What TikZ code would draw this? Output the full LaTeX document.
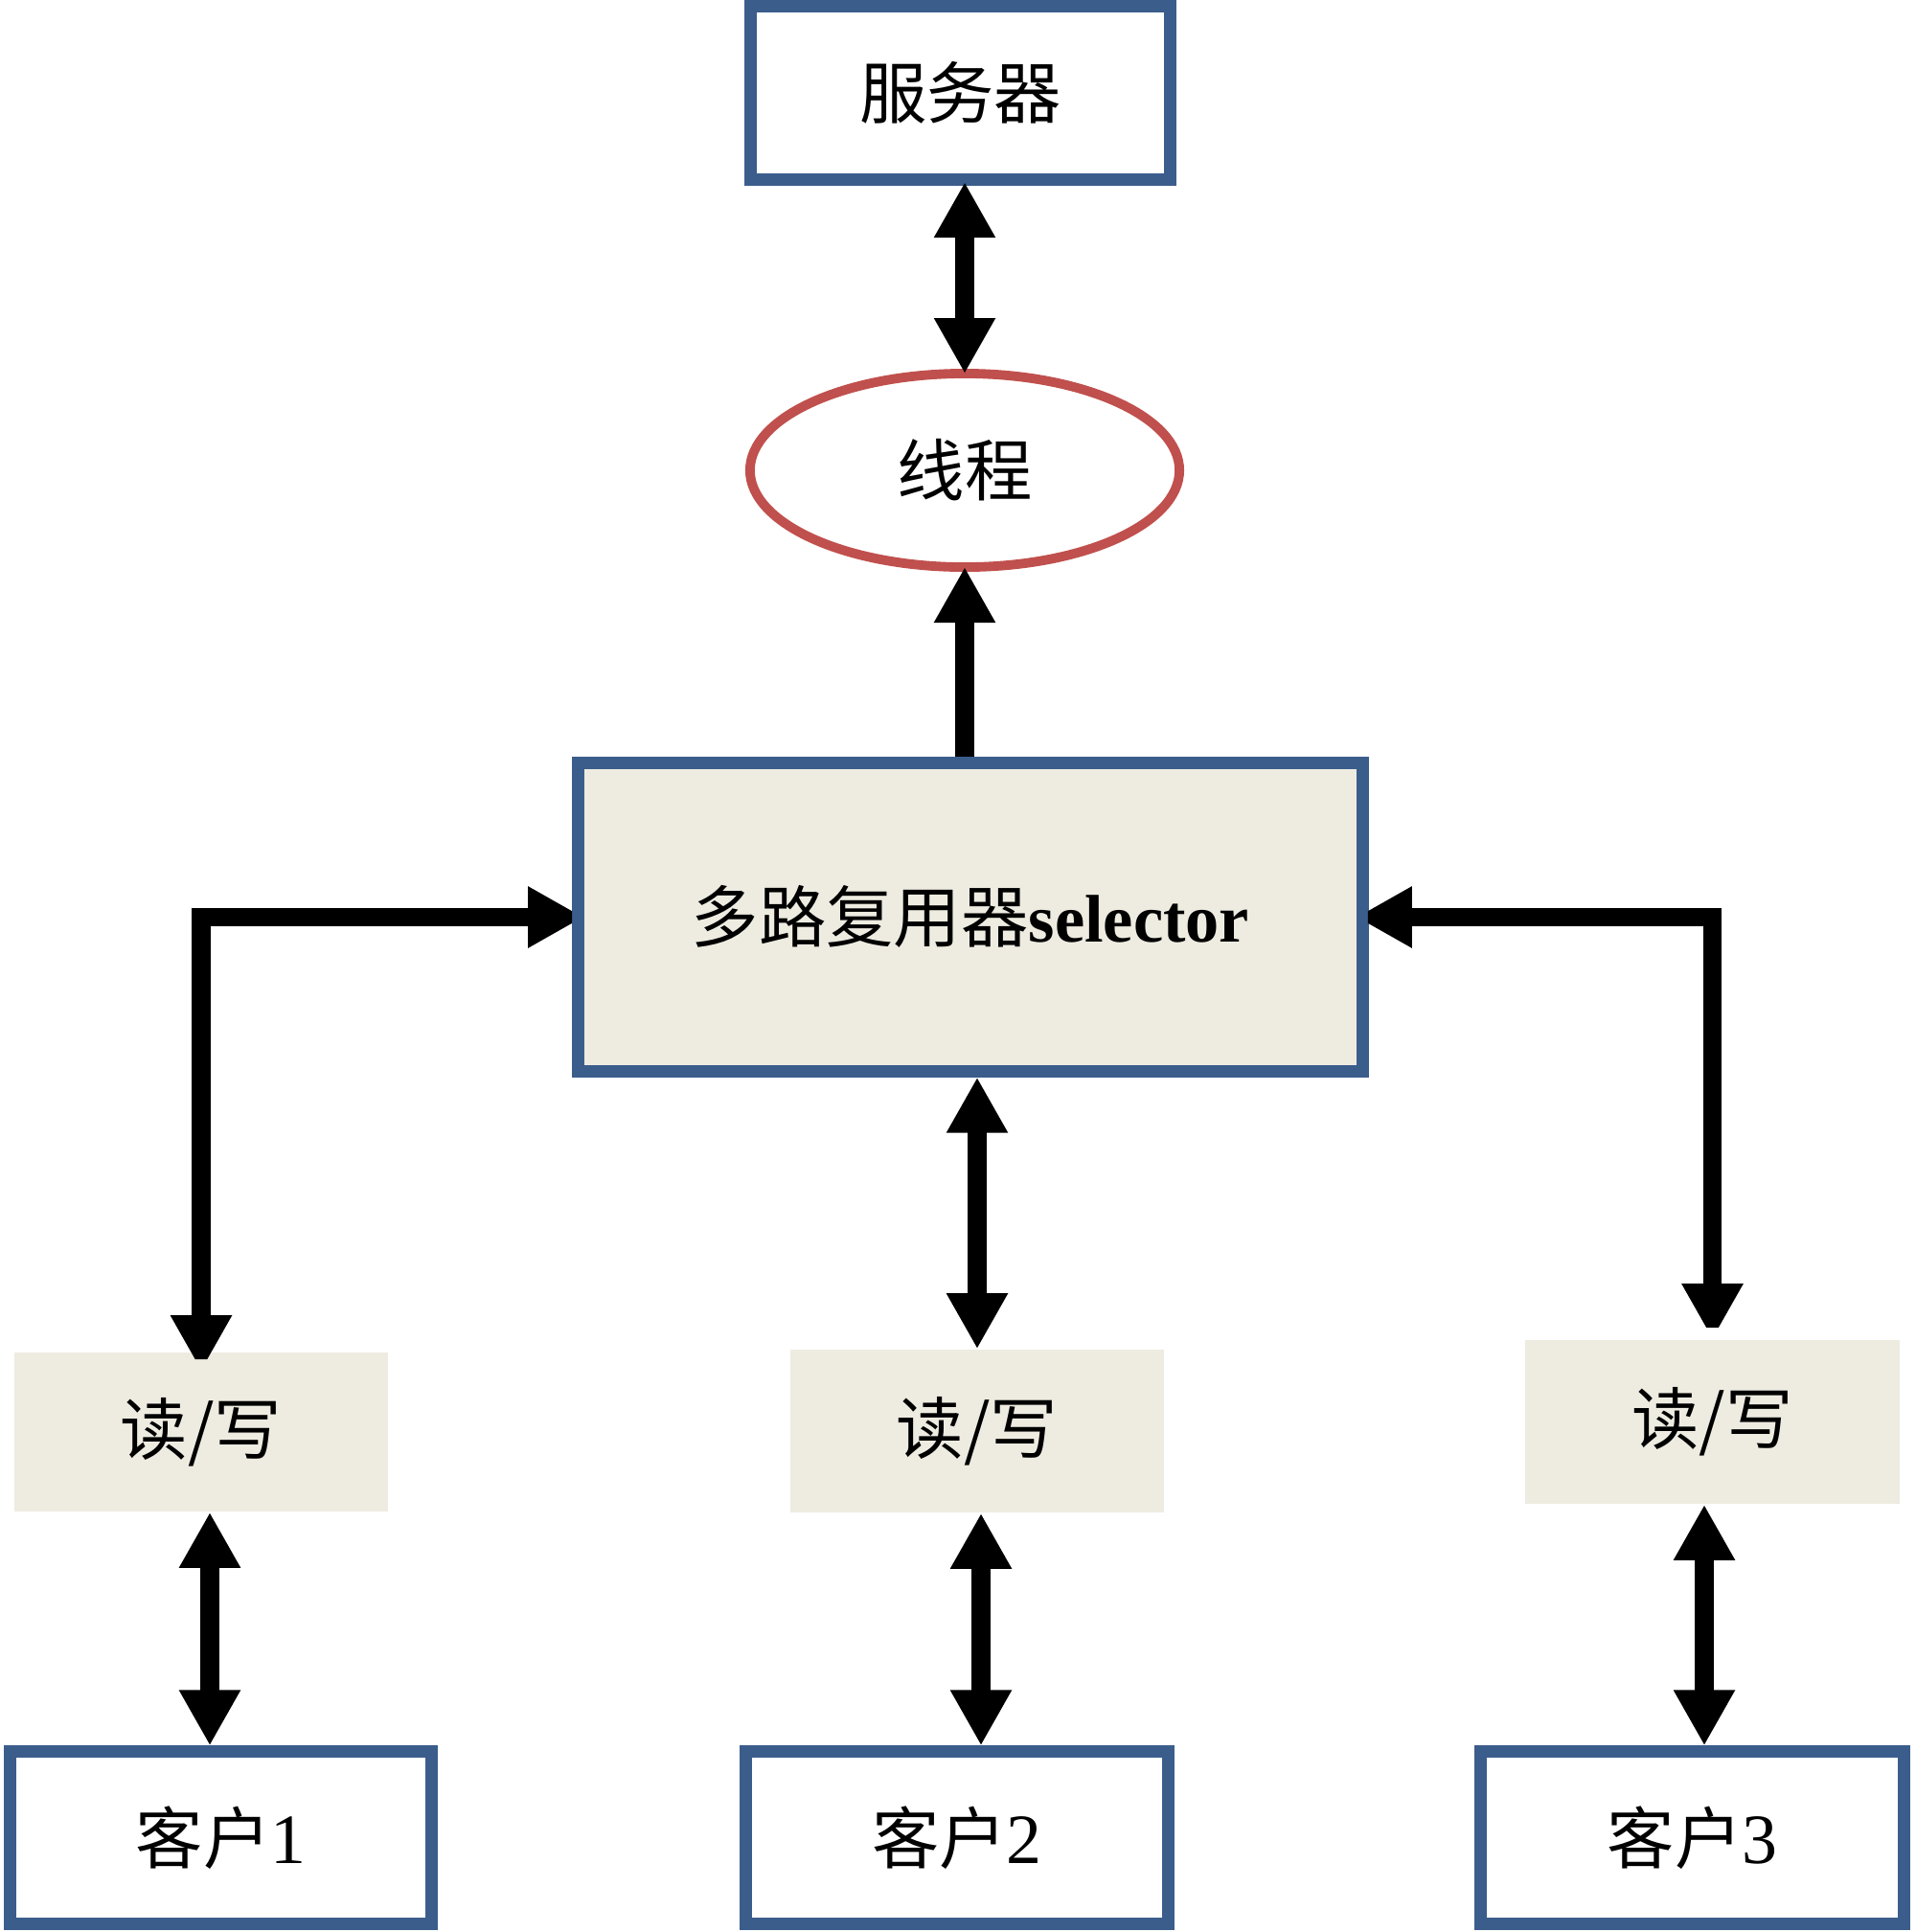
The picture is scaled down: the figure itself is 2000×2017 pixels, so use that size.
\documentclass[tikz,border=0pt]{standalone}
\usepackage{fontspec}
\setmainfont{Liberation Serif}
\newfontfamily\cjk{Noto Sans CJK SC}
\usetikzlibrary{arrows.meta,shapes.geometric}
\definecolor{bluebd}{RGB}{59,93,140}
\definecolor{redbd}{RGB}{192,80,77}
\definecolor{beige}{RGB}{238,236,225}
\begin{document}
\begin{tikzpicture}[x=0.01cm,y=-0.01cm,
  bluebox/.style={rectangle, draw=bluebd, line width=3.7pt, fill=white, inner sep=0pt, align=center},
  rwbox/.style={rectangle, fill=beige, inner sep=0pt, font=\cjk\fontsize{20}{24}\selectfont},
  tip/.tip={Triangle[width=0.6cm,length=0.58cm]},
  biarr/.style={line width=5.5pt, tip-tip},
  onearr/.style={line width=5.5pt, -tip},
  bigtxt/.style={font=\cjk\fontsize{20}{24}\selectfont},
  cltxt/.style={font=\fontsize{21}{25}\selectfont}]
\useasboundingbox (0,0) rectangle (2000,2017);

\node[bluebox, bigtxt, minimum width=4.37cm, minimum height=1.81cm] (server) at (1002.5,97) {服务器};
\node[ellipse, draw=redbd, line width=2.8pt, fill=white, inner sep=0pt, bigtxt,
      minimum width=4.48cm, minimum height=2.02cm] (thread) at (1007,491) {线程};
\node[bluebox, fill=beige, minimum width=8.18cm, minimum height=3.21cm] (sel) at (1013,957.5)
  {\raisebox{0.08cm}{{\cjk\fontsize{20}{24}\selectfont 多路复用器}{\fontsize{20}{24}\selectfont\bfseries selector}}};

\node[rwbox, minimum width=3.90cm, minimum height=1.66cm] (rw1) at (210,1495) {读/写};
\node[rwbox, minimum width=3.90cm, minimum height=1.70cm] (rw2) at (1020,1494) {读/写};
\node[rwbox, minimum width=3.91cm, minimum height=1.71cm] (rw3) at (1787.5,1484.5) {读/写};

\node[bluebox, cltxt, minimum width=4.39cm, minimum height=1.79cm] (cl1) at (230.5,1918.5) {{\cjk\fontsize{20}{24}\selectfont 客户}1};
\node[bluebox, cltxt, minimum width=4.40cm, minimum height=1.79cm] (cl2) at (999,1918.5) {{\cjk\fontsize{20}{24}\selectfont 客户}2};
\node[bluebox, cltxt, minimum width=4.41cm, minimum height=1.79cm] (cl3) at (1766.5,1918.5) {{\cjk\fontsize{20}{24}\selectfont 客户}3};

\draw[biarr] ([yshift=0.04cm]thread.north |- server.south) -- ([yshift=-0.05cm]thread.north);
\draw[onearr] (thread.south |- sel.north) -- ([yshift=0.05cm]thread.south);
\draw[biarr, miter limit=2] ([yshift=-0.2cm]rw1.north) |- ([xshift=0.12cm]sel.west);
\draw[biarr, miter limit=2] (rw3.north) |- ([xshift=-0.13cm]sel.east);
\draw[biarr] (rw2.north) -- (rw2.north |- sel.south);

\coordinate (a1) at ([xshift=0.09cm]rw1.south);
\coordinate (a2) at ([xshift=0.04cm]rw2.south);
\coordinate (a3) at ([xshift=-0.085cm]rw3.south);
\draw[biarr] (a1) -- (a1 |- cl1.north);
\draw[biarr] (a2) -- (a2 |- cl2.north);
\draw[biarr] (a3) -- (a3 |- cl3.north);
\end{tikzpicture}
\end{document}
